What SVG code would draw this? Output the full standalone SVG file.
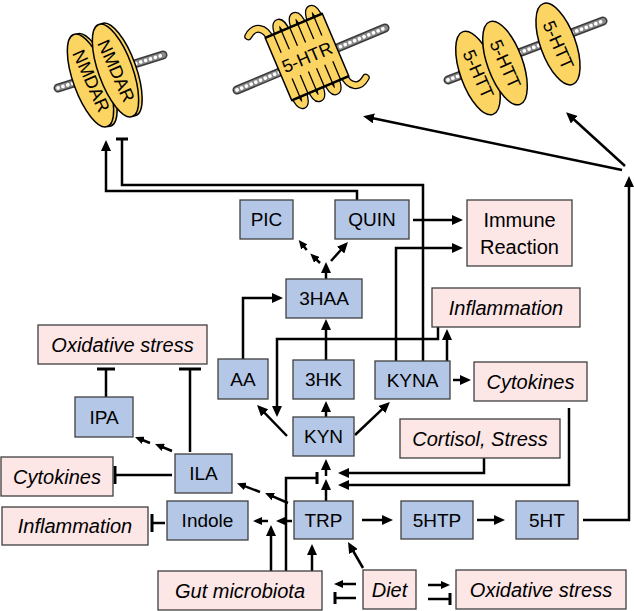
<svg xmlns="http://www.w3.org/2000/svg" width="634" height="611" viewBox="0 0 634 611">
<style>
.b{fill:#b4c7e7;stroke:#3f3f3f;stroke-width:1.3}
.p{fill:#fde6e6;stroke:#3f3f3f;stroke-width:1.3}
.t{font-family:"Liberation Sans",Arial,sans-serif;font-size:19px;fill:#000;text-anchor:middle}
.ti{font-family:"Liberation Sans",Arial,sans-serif;font-size:20px;font-style:italic;fill:#000;text-anchor:middle}
.tn{font-family:"Liberation Sans",Arial,sans-serif;font-size:20px;fill:#000;text-anchor:middle}
.rt{font-family:"Liberation Sans",Arial,sans-serif;font-size:18px;fill:#000;text-anchor:middle}
.c{fill:none;stroke:#000;stroke-width:2.5;stroke-linejoin:miter}
.a{marker-end:url(#ah)}
.s{marker-end:url(#ahs)}
.chd{stroke:#3a3a3a;stroke-width:9;stroke-linecap:round}
.chm{stroke:#8a8a8a;stroke-width:6;stroke-linecap:round}
.chw{stroke:#fff;stroke-width:3.6;stroke-dasharray:0.1 5;stroke-linecap:round}
.y{fill:#fcd462;stroke:#000;stroke-width:1.5}
.to{fill:none;stroke:#000;stroke-width:8;stroke-linecap:round}
.tin{fill:none;stroke:#fcd462;stroke-width:5.5;stroke-linecap:round}
</style>
<defs>
<marker id="ah" markerUnits="userSpaceOnUse" viewBox="0 0 11 10" markerWidth="11" markerHeight="10" refX="7" refY="5" orient="auto"><path d="M0,0 L11,5 L0,10 z" fill="#000"/></marker>
<marker id="ahs" markerUnits="userSpaceOnUse" viewBox="0 0 9 8" markerWidth="9" markerHeight="8" refX="5" refY="4" orient="auto"><path d="M0,0 L9,4 L0,8 z" fill="#000"/></marker>
<marker id="tee22" markerUnits="userSpaceOnUse" viewBox="-2 -11 4 22" markerWidth="4" markerHeight="22" refX="0" refY="0" orient="auto"><path d="M0,-11 V11" stroke="#000" stroke-width="3"/></marker>
<marker id="tee18" markerUnits="userSpaceOnUse" viewBox="-2 -9 4 18" markerWidth="4" markerHeight="18" refX="0" refY="0" orient="auto"><path d="M0,-9 V9" stroke="#000" stroke-width="3"/></marker>
<marker id="tee12" markerUnits="userSpaceOnUse" viewBox="-2 -6 4 12" markerWidth="4" markerHeight="12" refX="0" refY="0" orient="auto"><path d="M0,-6 V6" stroke="#000" stroke-width="3"/></marker>
</defs>
<rect width="634" height="611" fill="#fff"/>

<!-- Receptors -->
<g id="nmdar">
<line class="chd" x1="58" y1="88" x2="163" y2="55"/>
<line class="chm" x1="58" y1="88" x2="163" y2="55"/>
<line class="chw" x1="58" y1="88" x2="163" y2="55"/>
<ellipse class="y" cx="94" cy="80" rx="17" ry="49" transform="rotate(-20 94 80)"/>
<ellipse class="y" cx="90.5" cy="80.5" rx="17" ry="49" transform="rotate(-20 90.5 80.5)"/>
<text class="rt" transform="translate(91 81) rotate(66)" y="6">NMDAR</text>
<ellipse class="y" cx="119" cy="69.5" rx="17" ry="49" transform="rotate(-20 119 69.5)"/>
<ellipse class="y" cx="115.5" cy="70.5" rx="17" ry="49" transform="rotate(-20 115.5 70.5)"/>
<text class="rt" transform="translate(116 71) rotate(66)" y="6">NMDAR</text>
</g>

<g id="htr">
<line class="chd" x1="237" y1="90" x2="385" y2="28"/>
<line class="chm" x1="237" y1="90" x2="385" y2="28"/>
<line class="chw" x1="237" y1="90" x2="385" y2="28"/>
<g transform="translate(307 57) rotate(-23)">
<path class="to" d="M-26.6,-30 C-26.6,-44 -36,-50 -46,-42 M-17.7,-30 C-17.7,-47 -8.9,-47 -8.9,-30 M0,-30 C0,-47 8.9,-47 8.9,-30 M17.7,-30 C17.7,-47 26.6,-47 26.6,-30 M-26.6,30 C-26.6,47 -17.7,47 -17.7,30 M-8.9,30 C-8.9,47 0,47 0,30 M8.9,30 C8.9,47 17.7,47 17.7,30 M26.6,30 C26.6,44 36,50 46,42"/>
<path class="tin" d="M-26.6,-30 C-26.6,-44 -36,-50 -46,-42 M-17.7,-30 C-17.7,-47 -8.9,-47 -8.9,-30 M0,-30 C0,-47 8.9,-47 8.9,-30 M17.7,-30 C17.7,-47 26.6,-47 26.6,-30 M-26.6,30 C-26.6,47 -17.7,47 -17.7,30 M-8.9,30 C-8.9,47 0,47 0,30 M8.9,30 C8.9,47 17.7,47 17.7,30 M26.6,30 C26.6,44 36,50 46,42"/>
<rect class="y" x="-31" y="-34" width="62" height="68"/>
<path d="M-31,-34 H31 M-31,34 H31" stroke="#000" stroke-width="2.5"/>
<path d="M-22.1,-34 V-14 M-13.3,-34 V-14 M-4.4,-34 V-14 M4.4,-34 V-14 M13.3,-34 V-14 M22.1,-34 V-14 M-22.1,34 V14 M-13.3,34 V14 M-4.4,34 V14 M4.4,34 V14 M13.3,34 V14 M22.1,34 V14" stroke="#000" stroke-width="1.3"/>
<text class="rt" y="6.5">5-HTR</text>
</g>
</g>

<g id="htt">
<line class="chd" x1="448" y1="80" x2="603" y2="21"/>
<line class="chm" x1="448" y1="80" x2="603" y2="21"/>
<line class="chw" x1="448" y1="80" x2="603" y2="21"/>
<ellipse class="y" cx="478" cy="73" rx="17.5" ry="44" transform="rotate(-20 478 73)"/>
<text class="rt" transform="translate(478 74) rotate(66)" y="6">5-HTT</text>
<ellipse class="y" cx="505" cy="63" rx="17.5" ry="44" transform="rotate(-20 505 63)"/>
<text class="rt" transform="translate(505 64) rotate(66)" y="6">5-HTT</text>
<ellipse class="y" cx="558" cy="44" rx="17.5" ry="43" transform="rotate(-20 558 44)"/>
<text class="rt" transform="translate(558 45) rotate(66)" y="6">5-HTT</text>
</g>

<!-- Connectors -->
<g id="connectors">
<path class="c a" d="M357,200 V191 H106 V144"/>
<path class="c" d="M423,361 V185 H122 V139" marker-end="url(#tee12)"/>
<path class="c a" d="M396,361 V248 H459"/>
<path class="c a" d="M413,220 H459"/>
<path class="c a" d="M438,327 V339 H277 V413"/>
<path class="c a" d="M447,361 V333"/>
<path class="c a" d="M453,380 H467"/>
<path class="c a" d="M569,408 V485 H342"/>
<path class="c a" d="M484,458 V473 H342"/>
<path class="c a" d="M326,501 V483"/>
<path class="c a" d="M326,476 V463"/>
<path class="c" d="M286,571 V478 H317" marker-end="url(#tee12)"/>
<path class="c a" d="M362,520 H389"/>
<path class="c a" d="M477,520 H501"/>
<path class="c a" d="M583,520 H629 V180"/>
<path class="c a" d="M622,170 L367,117"/>
<path class="c a" d="M625,166 L569,115"/>
<path class="c a" d="M363,568 L350,545.5"/>
<path class="c a" d="M312,571 V548"/>
<path class="c a" d="M271,571 V529"/>
<path class="c s" d="M292,521 H280"/>
<path class="c s" d="M268,521 H257"/>
<path class="c s" d="M288,503 L268.7,494.6"/>
<path class="c s" d="M260,492 L240.7,484.6"/>
<path class="c s" d="M172,451 L158.7,445.5"/>
<path class="c s" d="M150,443 L138.7,438.5"/>
<path class="c" d="M190,452 V369" marker-end="url(#tee22)"/>
<path class="c" d="M106,397 V369" marker-end="url(#tee18)"/>
<path class="c" d="M172,475 H115" marker-end="url(#tee18)"/>
<path class="c" d="M165,523 H152" marker-end="url(#tee18)"/>
<path class="c a" d="M243,359 V298 H279"/>
<path class="c a" d="M326,360 V323"/>
<path class="c a" d="M326,417 V405"/>
<path class="c a" d="M355,435 L387,404.7"/>
<path class="c a" d="M287,436 L259.8,407.9"/>
<path class="c a" d="M326,279 V266"/>
<path class="c s" d="M320,263 L313.2,256.4"/>
<path class="c s" d="M306.7,250 L301.2,243.1"/>
<path class="c a" d="M331,261 L345.3,245"/>
<path class="c s" d="M356,584 H338"/>
<path class="c" d="M356,598 H335" marker-end="url(#tee12)"/>
<path class="c s" d="M428,585 H446"/>
<path class="c" d="M428,599 H450" marker-end="url(#tee12)"/>
</g>

<!-- Nodes -->
<g id="PIC"><rect class="b" x="240" y="200" width="53" height="39"/><text class="t" x="266.5" y="226">PIC</text></g>
<g id="QUIN"><rect class="b" x="335" y="200" width="74" height="39"/><text class="t" x="372" y="226">QUIN</text></g>
<g id="immune"><rect class="p" x="467" y="200" width="105" height="66"/><text class="tn" x="519.5" y="227">Immune</text><text class="tn" x="519.5" y="254">Reaction</text></g>
<g id="HAA3"><rect class="b" x="286" y="279" width="76" height="39"/><text class="t" x="324" y="305">3HAA</text></g>
<g id="inflam1"><rect class="p" x="432" y="288" width="148" height="39"/><text class="ti" x="506" y="314.5">Inflammation</text></g>
<g id="oxid1"><rect class="p" x="38" y="325" width="169" height="39"/><text class="ti" x="122.5" y="351.5">Oxidative stress</text></g>
<g id="AA"><rect class="b" x="218" y="359" width="50" height="40"/><text class="t" x="243" y="385.5">AA</text></g>
<g id="HK3"><rect class="b" x="293" y="360" width="61" height="39"/><text class="t" x="323.5" y="386">3HK</text></g>
<g id="KYNA"><rect class="b" x="375" y="361" width="75" height="38"/><text class="t" x="412.5" y="386.5">KYNA</text></g>
<g id="cyto1"><rect class="p" x="474" y="362" width="113" height="39"/><text class="ti" x="530.5" y="388.5">Cytokines</text></g>
<g id="IPA"><rect class="b" x="75" y="397" width="58" height="40"/><text class="t" x="104" y="423.5">IPA</text></g>
<g id="KYN"><rect class="b" x="293" y="417" width="61" height="39"/><text class="t" x="323.5" y="443">KYN</text></g>
<g id="cortisol"><rect class="p" x="400" y="419" width="160" height="39"/><text class="ti" x="480" y="445.5">Cortisol, Stress</text></g>
<g id="ILA"><rect class="b" x="175" y="454" width="57" height="39"/><text class="t" x="203.5" y="480">ILA</text></g>
<g id="cyto2"><rect class="p" x="1" y="457" width="112" height="39"/><text class="ti" x="57" y="483.5">Cytokines</text></g>
<g id="TRP"><rect class="b" x="294" y="501" width="59" height="38"/><text class="t" x="323.5" y="526.5">TRP</text></g>
<g id="HTP5"><rect class="b" x="401" y="501" width="72" height="38"/><text class="t" x="437" y="526.5">5HTP</text></g>
<g id="HT5"><rect class="b" x="516" y="501" width="62" height="38"/><text class="t" x="547" y="526.5">5HT</text></g>
<g id="indole"><rect class="b" x="167" y="501" width="81" height="39"/><text class="t" x="207.5" y="527">Indole</text></g>
<g id="inflam2"><rect class="p" x="2" y="507" width="146" height="38"/><text class="ti" x="75" y="533">Inflammation</text></g>
<g id="gut"><rect class="p" x="158" y="571" width="164" height="39"/><text class="ti" x="240" y="597.5">Gut microbiota</text></g>
<g id="diet"><rect class="p" x="363" y="570" width="53" height="39"/><text class="ti" x="389.5" y="596.5">Diet</text></g>
<g id="oxid2"><rect class="p" x="456" y="570" width="170" height="39"/><text class="ti" x="541" y="596.5">Oxidative stress</text></g>
</svg>
